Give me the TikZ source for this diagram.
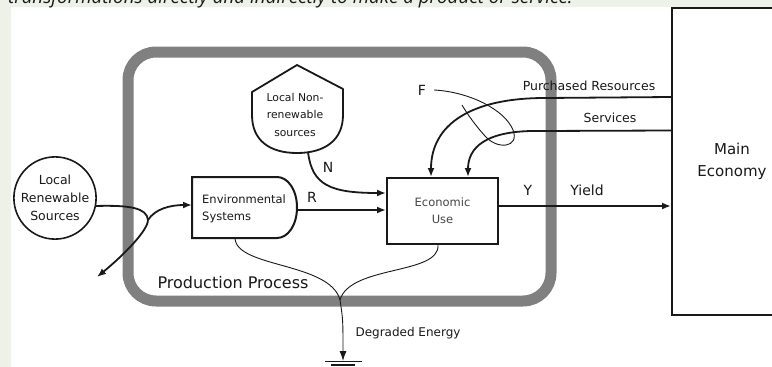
\documentclass[tikz,border=0pt]{standalone}
\usepackage{fontspec}
\setmainfont{DejaVu Sans}
\newfontfamily\capfont{Open Sans}
\usetikzlibrary{arrows.meta}
\definecolor{bgstrip}{RGB}{237,241,231}
\definecolor{bandgray}{RGB}{128,128,128}
\definecolor{ink}{RGB}{25,25,25}
\definecolor{softink}{RGB}{70,70,70}
\tikzset{
  lab/.style={font=\fontsize{12.5}{17}\selectfont, text=ink, inner sep=0pt},
  letter/.style={font=\fontsize{14}{16}\selectfont, text=ink, inner sep=0pt},
  flow/.style={line width=1.8pt, draw=ink, -{Latex[length=9pt,width=7pt]}},
  flowline/.style={line width=1.8pt, draw=ink},
  thinline/.style={line width=0.9pt, draw=ink},
  boxline/.style={draw=ink, line width=2pt},
}
\begin{document}
\begin{tikzpicture}[x=1pt,y=-1pt]
\useasboundingbox (0,0) rectangle (772,367);
\clip (0,0) rectangle (772,367);
% background
\fill[bgstrip] (0,0) rectangle (772,367);
\fill[white] (11,7) rectangle (772,367);
% cut caption line at the top
\node[anchor=base west, inner sep=0pt, font=\capfont\itshape\fontsize{18.8}{20}\selectfont, text=ink] (cap) at (8,3.5) {transformations directly and indirectly to make a product or service.};

% production process boundary
\draw[bandgray, line width=11pt, rounded corners=28pt] (128,52) rectangle (551,301);
\node[font=\fontsize{16}{18}\selectfont, text=ink, inner sep=0pt] (pp) at (233,283) {Production Process};

% main economy
\node[boxline, minimum width=120pt, minimum height=307pt, inner sep=0pt, align=center,
      font=\fontsize{15}{22}\selectfont, text=ink] (main) at (732,161.5) {Main\\Economy};

% local renewable sources
\node[circle, boxline, line width=1.6pt, minimum size=80pt, inner sep=0pt, align=center,
      lab, font=\fontsize{12.5}{18}\selectfont] (lrs) at (55,198) {Local\\Renewable\\Sources};

% environmental systems (producer shape)
\draw[boxline] (192,177) -- (277,177) .. controls (288,177) and (297,190) .. (297,207.5)
   .. controls (297,225) and (288,238) .. (277,238) -- (192,238) -- cycle;
\node[lab, font=\fontsize{11.5}{17}\selectfont, anchor=west, align=left] (env) at (202,208.5) {Environmental\\Systems};
\coordinate (envW) at (192,205);
\coordinate (envE) at (297,210);
\coordinate (envS) at (235,238);

% local non-renewable sources
\draw[boxline, line width=1.8pt, line join=round] (297,65) -- (343,89) -- (343,115)
   .. controls (343,140) and (325,153) .. (297,153)
   .. controls (269,153) and (252,140) .. (252,115) -- (252,92) -- cycle;
\node[lab, font=\fontsize{10.8}{17.5}\selectfont, align=center] (nr) at (295,114.5) {Local Non-\\renewable\\sources};
\coordinate (nrS) at (308,152);

% economic use
\node[boxline, minimum width=111pt, minimum height=66pt, inner sep=0pt, align=center,
      font=\fontsize{11.5}{17}\selectfont, text=softink] (eco) at (442.5,211) {Economic\\Use};

% local renewable flow with split
\coordinate (split) at (148,220);
\draw[flowline] (lrs.-11) .. controls (130,205) and (147,208) .. (split);
\draw[flow] (split) .. controls (155,209) and (170,205) .. (envW);
\draw[flow] (split) .. controls (148,230) and (125,254) .. (97,277);

% R and N
\draw[flow] (envE) -- ([yshift=1pt]eco.west);
\node[letter] (R) at (312,197) {R};
\draw[flow] (nrS) .. controls (312,185) and (330,193) .. ([yshift=18pt]eco.west);
\node[letter] (N) at (328,167) {N};

% purchased resources and services
\coordinate (pr) at ([yshift=-90pt]main.north west);
\coordinate (sv) at ([yshift=-123.5pt]main.north west);
\draw[flow] (pr) -- (545,98) .. controls (470,98) and (431,125) .. ([xshift=-11.5pt]eco.north);
\draw[flow] (sv) -- (540,131) .. controls (485,130) and (468,148) .. ([xshift=25.5pt]eco.north);
\node[lab] (prl) at (589,86) {Purchased Resources};
\node[lab] (svl) at (610,118) {Services};

% F lasso
\node[letter] (F) at (422,90) {F};
\draw[thinline] ([xshift=8pt]F.east) .. controls (470,92) and (505,110) .. (513,130)
   .. controls (520,148) and (497,150) .. (485,136)
   .. controls (475,125) and (466,112) .. (462,105);

% yield
\draw[flow] (eco.east |- 0,206) -- (main.west |- 0,206);
\node[letter] (Y) at (528,190) {Y};
\node[lab, font=\fontsize{14}{16}\selectfont] (yl) at (587,190) {Yield};

% degraded energy
\coordinate (merge) at (340,300);
\coordinate (gnd) at (343,361);
\draw[thinline] (envS) .. controls (236,268) and (330,262) .. (merge);
\draw[thinline] ([xshift=-4.5pt]eco.south) .. controls (440,275) and (350,265) .. (merge);
\draw[thinline, -{Latex[length=10pt,width=7pt]}] (merge) .. controls (343,320) .. (gnd);
\node[lab, font=\fontsize{12}{14}\selectfont] (de) at (408,333) {Degraded Energy};
\draw[ink, line width=1pt] ([xshift=-18pt]gnd) -- ([xshift=19pt]gnd);
\draw[ink, line width=2pt] ([xshift=-12pt,yshift=-3.5pt]gnd) -- ([xshift=12pt,yshift=-3.5pt]gnd);
\end{tikzpicture}
\end{document}
